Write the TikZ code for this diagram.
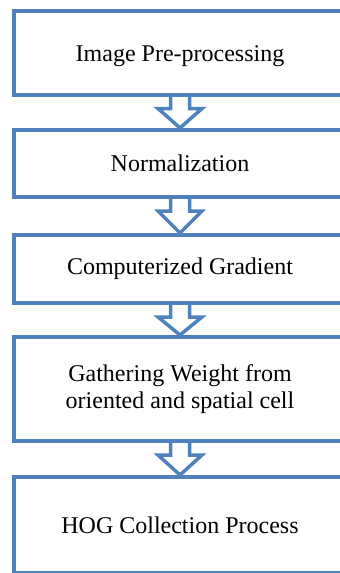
\documentclass[tikz,border=0pt]{standalone}
\usepackage{fontspec}
\setmainfont{Liberation Serif}
\definecolor{flowblue}{RGB}{79,129,189}
\begin{document}
\begin{tikzpicture}[x=1pt,y=-1pt,
  stage/.style={draw=flowblue,line width=4pt,fill=white,rectangle,minimum width=332pt,
    inner sep=0pt,outer sep=0pt,align=center,font=\fontsize{24}{27.6}\selectfont},
  flow/.style={draw=flowblue,line width=3.5pt,line join=miter}]
\useasboundingbox (0,0) rectangle (340,573);
\clip (0,0) rectangle (340,573);
\fill[white] (0,0) rectangle (340,573);
\node[stage,minimum height=83.5pt] (b1) at (180,52.75) {\raisebox{-3pt}[\height][\depth]{Image Pre-processing}};
\node[stage,minimum height=67pt] (b2) at (180,163.5) {Normalization};
\node[stage,minimum height=68pt] (b3) at (180,269) {Computerized Gradient};
\node[stage,minimum height=104pt] (b4) at (180,389) {Gathering Weight from\\oriented and spatial cell};
\node[stage,minimum height=96pt] (b5) at (180,525) {HOG Collection Process};
\foreach \a/\b in {b1/b2,b2/b3,b3/b4,b4/b5}{
  \draw[flow] ([xshift=-9.5pt]\a.south) -- ([xshift=-9.5pt,yshift=-14pt]\a.south)
    -- ([xshift=-22pt,yshift=-14pt]\a.south) -- ([yshift=2pt]\b.north)
    -- ([xshift=22pt,yshift=-14pt]\a.south) -- ([xshift=9.5pt,yshift=-14pt]\a.south)
    -- ([xshift=9.5pt]\a.south);
}
\end{tikzpicture}
\end{document}
